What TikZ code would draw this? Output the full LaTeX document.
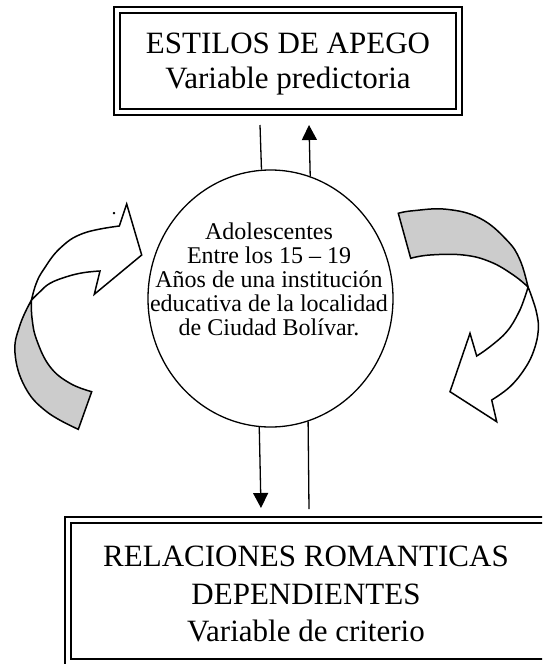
\documentclass[tikz,border=0pt]{standalone}
\usepackage{fontspec}
\setmainfont{Liberation Serif}
\usetikzlibrary{shapes.geometric,arrows.meta}
\begin{document}
\begin{tikzpicture}[x=1pt,y=-1pt,
  outerb/.style={draw,line width=2.6pt,inner sep=0pt},
  innerb/.style={draw,line width=1.2pt,inner sep=0pt},
  conn/.style={line width=1.3pt},
  arr/.style={conn,-{Triangle[width=15pt,length=15pt]}},
  band/.style={line width=1.5pt,line join=miter},
  backfill/.style={fill=black!20},
  bigtext/.style={font=\fontsize{31}{37}\selectfont,anchor=base,inner sep=0pt},
  smalltext/.style={font=\fontsize{24}{24}\selectfont,anchor=base,inner sep=0pt},
]
\useasboundingbox (0,0) rectangle (542,664);
\clip (0,0) rectangle (542,664);
\fill[white] (0,0) rectangle (542,664);

% top box
\node[outerb,minimum width=348pt,minimum height=108pt] (topbox) at (288,61) {};
\node[innerb,minimum width=336pt,minimum height=96pt] (topin) at (288,61) {};
\node[bigtext] (t1) at (288,53) {ESTILOS DE APEGO};
\node[bigtext] (t2) at (288,88) {Variable predictoria};

% bottom box
\node[outerb,minimum width=485pt,minimum height=148pt] (botbox) at (307.5,591) {};
\node[innerb,minimum width=473pt,minimum height=136pt] (botin) at (307.5,591) {};
\node[bigtext] (b1) at (306,566) {RELACIONES ROMANTICAS};
\node[bigtext] (b2) at (306,604) {DEPENDIENTES};
\node[bigtext] (b3) at (306,641) {Variable de criterio};

% circle
\node[ellipse,draw,line width=1.3pt,minimum width=245pt,minimum height=257pt,inner sep=0pt] (c) at (270.5,298.5) {};
\node[smalltext] (c1) at (269,239) {Adolescentes};
\node[smalltext] (c2) at (269,263) {Entre los 15 – 19};
\node[smalltext] (c3) at (269,287) {Años de una institución};
\node[smalltext] (c4) at (269,311) {educativa de la localidad};
\node[smalltext] (c5) at (269,335) {de Ciudad Bolívar.};

% connectors
\coordinate (ua) at (260,125);
\coordinate (ub) at (309,125);
\coordinate (da) at (261,508);
\coordinate (db) at (309,509);
\draw[conn] (c.94.7) -- (ua);
\draw[arr] (c.72.5) -- (ub);
\draw[arr] (c.265.8) -- (da);
\draw[conn] (c.287.6) -- (db);

% left curved arrow
\filldraw[band,backfill] (31.5,300) -- plot[smooth,tension=0.7] coordinates {(31.5,300) (20,325) (15,353) (25,387) (46.7,411.7) (78.3,429.3)} -- (91.7,391.7) -- plot[smooth,tension=0.7] coordinates {(91.7,391.7) (70,383.3) (50,366.7) (36.7,340) (32,318) (31.5,300)} -- cycle;
\filldraw[band,fill=white] (31.5,300) -- plot[smooth,tension=0.7] coordinates {(31.5,300) (36,284) (43.3,270) (60,248.3) (83.3,233.3) (119.3,226)} -- (126.7,204) -- (141.7,255) -- (94.3,294.3) -- plot[smooth,tension=0.7] coordinates {(100,271) (83.3,272.7) (66.7,276.7) (50,283.3) (40,291.7) (31.5,300)} -- cycle;
\node[font=\fontsize{20}{20}\selectfont,inner sep=0pt,anchor=base] (dot) at (114,214) {.};

% right curved arrow
\filldraw[band,backfill] (398.3,213.3) -- plot[smooth,tension=0.7] coordinates {(398.3,213.3) (413.3,210.7) (446.7,209.3) (480,218.3) (506.7,240) (520,260) (528,287)} -- plot[smooth,tension=0.7] coordinates {(528,287) (513.3,275) (490,261.7) (463.3,255) (430,255) (410.7,258.3)} -- cycle;
\filldraw[band,fill=white] (528,287) -- plot[smooth,tension=0.7] coordinates {(528,287) (531.7,296.7) (536.7,313.3) (538.3,330) (534,350) (525,368.3) (510,386.7) (491.7,400)} -- (496.7,421.7) -- (450,391.7) -- (470,333.3) -- plot[smooth,tension=0.7] coordinates {(476.7,356) (490,346.7) (506.7,331.7) (518.3,313.3) (525,296.7) (528,287)} -- cycle;
\end{tikzpicture}
\end{document}
